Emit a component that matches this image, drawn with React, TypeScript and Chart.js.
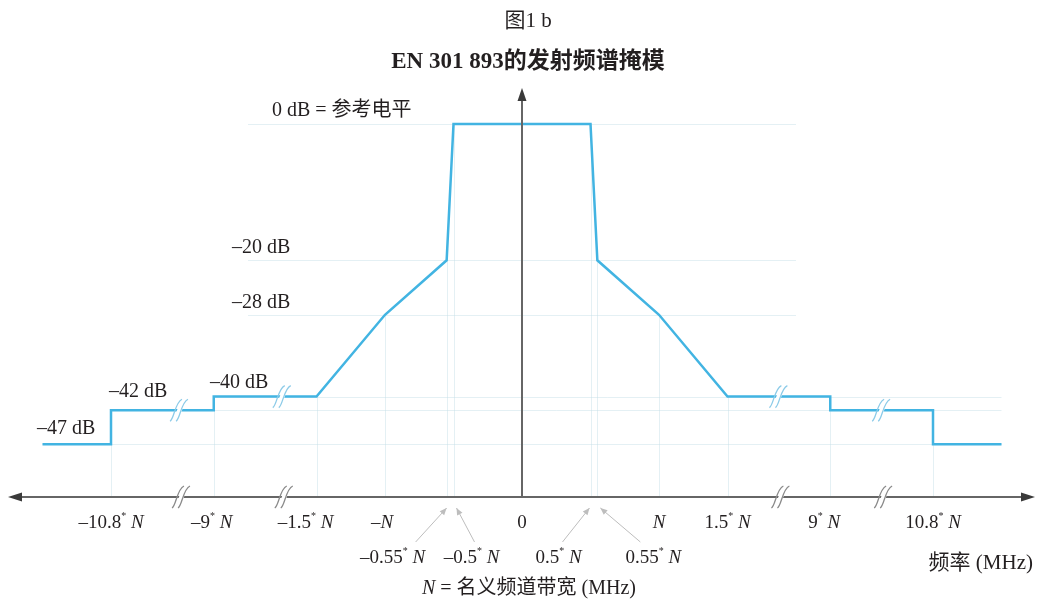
import React, { useEffect, useRef } from 'react';
import { Chart, registerables } from 'chart.js';

Chart.register(...registerables);

// ---- data (frequency positions on the compressed, broken axis, in units of N; levels in dB) ----
const maskPos = [-3.5, -3, -3, -2.25, -2.25, -1.5, -1, -0.55, -0.5, 0.5, 0.55, 1, 1.5, 2.25, 2.25, 3, 3, 3.5];
const maskDb = [-47, -47, -42, -42, -40, -40, -28, -20, 0, 0, -20, -28, -40, -40, -42, -42, -47, -47];

const tickPos = [-3, -2.25, -1.5, -1, 0, 1, 1.5, 2.25, 3];
const tickLabels = ['–10.8* N', '–9* N', '–1.5* N', '–N', '0', 'N', '1.5* N', '9* N', '10.8* N'];

const innerPos = [-0.55, -0.5, 0.5, 0.55];
const innerLabels = ['–0.55* N', '–0.5* N', '0.5* N', '0.55* N'];

const levelDb = [0, -20, -28, -40, -42, -47];
const levelLabels = ['0 dB = 参考电平', '–20 dB', '–28 dB', '–40 dB', '–42 dB', '–47 dB'];

const breakPos = [-2.5, -1.75, 1.875, 2.625];

const titleText = '图1 b';
const subtitleText = 'EN 301 893的发射频谱掩模';
const xAxisTitle = '频率 (MHz)';
const noteText = 'N = 名义频道带宽 (MHz)';

// ---- layout / style ----
const PX_PER_N = 137;
const CENTER_X = 522;
const W = 1038;
const H = 605;
const PX_PER_DB = 6.815;
const ZERO_Y = 124;
const X_MIN = -CENTER_X / PX_PER_N;
const X_MAX = (W - CENTER_X) / PX_PER_N;
const Y_MAX = ZERO_Y / PX_PER_DB;
const Y_MIN = -(H - ZERO_Y) / PX_PER_DB;
const AXIS_DB = -54.73;

const SERIF = '"Liberation Serif", "Times New Roman", "Noto Sans CJK SC", serif';
const TEXT = '#231f20';
const LINE = '#42b4e2';
const GRID = 'rgba(195, 222, 230, 0.45)';
const AXIS = '#666666';

const gridFrom = [-2, -2, -2, -2.25, -3, -3.5];
const gridTo = [2, 2, 2, 3.5, 3.5, 3.5];
const levelLabelX = [272, 232, 232, 210, 109, 37];
const levelLabelDy = [-13, -13, -12, -14, -18, -16];
const tickLabelDx = [0, -2, -11, -3, 0, 0, 0, -6, 0];
const innerLabelDx = [-54, 18, -32, 56];
const innerArrowStartDx = [-31, 21, -28, 43];
const innerArrowEndDx = [0, 3, -1, 3];

function levelAt(p: number): number {
  const exact = maskPos.map((v, i) => (v === p ? maskDb[i] : null)).filter((v) => v !== null) as number[];
  if (exact.length) return Math.max(...exact);
  for (let i = 0; i < maskPos.length - 1; i++) {
    const a = maskPos[i], b = maskPos[i + 1];
    if (p > a && p < b) {
      return maskDb[i] + ((p - a) / (b - a)) * (maskDb[i + 1] - maskDb[i]);
    }
  }
  return maskDb[0];
}

function drawRich(ctx: CanvasRenderingContext2D, s: string, cx: number, cy: number, size: number, align = 'center') {
  const parts: { t: string; kind: string; w: number }[] = [];
  for (const ch of s) {
    const kind = ch === '*' ? 'sup' : ch === 'N' ? 'it' : 'n';
    const last = parts[parts.length - 1];
    if (last && last.kind === kind) last.t += ch;
    else parts.push({ t: ch, kind, w: 0 });
  }
  const fontOf = (k: string) =>
    k === 'sup' ? `${Math.round(size * 0.55)}px ${SERIF}` : k === 'it' ? `italic ${size}px ${SERIF}` : `${size}px ${SERIF}`;
  let total = 0;
  parts.forEach((p) => {
    ctx.font = fontOf(p.kind);
    p.w = ctx.measureText(p.t).width;
    total += p.w;
  });
  let px = align === 'center' ? cx - total / 2 : align === 'right' ? cx - total : cx;
  ctx.textAlign = 'left';
  ctx.textBaseline = 'middle';
  parts.forEach((p) => {
    ctx.font = fontOf(p.kind);
    ctx.fillText(p.t, px, p.kind === 'sup' ? cy - size * 0.33 : cy);
    px += p.w;
  });
}

function breakMark(ctx: CanvasRenderingContext2D, x: number, y: number, color: string) {
  ctx.save();
  ctx.fillStyle = '#ffffff';
  ctx.beginPath();
  ctx.moveTo(x - 6, y + 9);
  ctx.lineTo(x - 1, y + 9);
  ctx.lineTo(x + 6, y - 9);
  ctx.lineTo(x + 1, y - 9);
  ctx.closePath();
  ctx.fill();
  ctx.strokeStyle = color;
  ctx.lineWidth = 1.3;
  for (const dx of [-3.5, 2.5]) {
    ctx.beginPath();
    ctx.moveTo(x + dx - 6, y + 11);
    ctx.bezierCurveTo(x + dx - 2, y + 9, x + dx - 1, y - 8, x + dx + 6, y - 11);
    ctx.stroke();
  }
  ctx.restore();
}

function arrowHead(ctx: CanvasRenderingContext2D, x1: number, y1: number, x2: number, y2: number, len: number, half: number) {
  const a = Math.atan2(y2 - y1, x2 - x1);
  ctx.beginPath();
  ctx.moveTo(x2, y2);
  ctx.lineTo(x2 - len * Math.cos(a) + half * Math.sin(a), y2 - len * Math.sin(a) - half * Math.cos(a));
  ctx.lineTo(x2 - len * Math.cos(a) - half * Math.sin(a), y2 - len * Math.sin(a) + half * Math.cos(a));
  ctx.closePath();
  ctx.fill();
}

const decor = {
  id: 'decor',
  beforeDatasetsDraw(chart: any) {
    const { ctx, scales } = chart;
    const x = scales.x, y = scales.y;
    const axisY = y.getPixelForValue(AXIS_DB);
    ctx.save();
    ctx.strokeStyle = GRID;
    ctx.lineWidth = 1;
    levelDb.forEach((db, i) => {
      const py = Math.round(y.getPixelForValue(db)) + 0.5;
      ctx.beginPath();
      ctx.moveTo(x.getPixelForValue(gridFrom[i]), py);
      ctx.lineTo(x.getPixelForValue(gridTo[i]), py);
      ctx.stroke();
    });
    [...tickPos, ...innerPos]
      .filter((p) => p !== 0)
      .forEach((p) => {
        const px = Math.round(x.getPixelForValue(p)) + 0.5;
        ctx.beginPath();
        ctx.moveTo(px, y.getPixelForValue(levelAt(p)));
        ctx.lineTo(px, axisY);
        ctx.stroke();
      });
    ctx.restore();
  },
  afterDatasetsDraw(chart: any) {
    const { ctx, scales, chartArea } = chart;
    const x = scales.x, y = scales.y;
    const axisY = y.getPixelForValue(AXIS_DB);
    const x0 = x.getPixelForValue(0);
    ctx.save();

    // break marks on the mask
    breakPos.forEach((p) => breakMark(ctx, x.getPixelForValue(p), y.getPixelForValue(levelAt(p)), '#8ccbe8'));

    // axes
    ctx.strokeStyle = AXIS;
    ctx.fillStyle = '#3a3a3a';
    ctx.lineWidth = 2;
    const leftTip = chartArea.left + 8;
    const rightTip = chartArea.right - 3;
    ctx.beginPath();
    ctx.moveTo(leftTip + 8, axisY);
    ctx.lineTo(rightTip - 8, axisY);
    ctx.stroke();
    arrowHead(ctx, rightTip - 20, axisY, rightTip, axisY, 14, 4.5);
    arrowHead(ctx, leftTip + 20, axisY, leftTip, axisY, 14, 4.5);
    const topTip = 88;
    ctx.beginPath();
    ctx.moveTo(x0, axisY);
    ctx.lineTo(x0, topTip + 8);
    ctx.stroke();
    arrowHead(ctx, x0, topTip + 20, x0, topTip, 13, 4.5);

    breakPos.forEach((p) => breakMark(ctx, x.getPixelForValue(p) + 2, axisY, '#8a8a8a'));

    // tick labels
    ctx.fillStyle = TEXT;
    tickPos.forEach((p, i) => drawRich(ctx, tickLabels[i], x.getPixelForValue(p) + tickLabelDx[i], axisY + 26, 19));

    // inner labels with arrows
    innerPos.forEach((p, i) => {
      const px = x.getPixelForValue(p);
      ctx.fillStyle = TEXT;
      drawRich(ctx, innerLabels[i], px + innerLabelDx[i], axisY + 61, 19);
      const sx = px + innerArrowStartDx[i], sy = axisY + 45;
      const ex = px + innerArrowEndDx[i], ey = axisY + 11;
      ctx.strokeStyle = '#bdbdbd';
      ctx.fillStyle = '#bdbdbd';
      ctx.lineWidth = 1;
      ctx.beginPath();
      ctx.moveTo(sx, sy);
      ctx.lineTo(ex, ey);
      ctx.stroke();
      arrowHead(ctx, sx, sy, ex, ey, 7, 3);
    });

    // level labels
    ctx.fillStyle = TEXT;
    ctx.font = `20px ${SERIF}`;
    ctx.textAlign = 'left';
    ctx.textBaseline = 'middle';
    levelDb.forEach((db, i) => {
      ctx.fillText(levelLabels[i], chartArea.left + levelLabelX[i], y.getPixelForValue(db) + levelLabelDy[i]);
    });

    // titles and notes
    ctx.textAlign = 'center';
    ctx.font = `21px ${SERIF}`;
    ctx.fillText(titleText, 528, 21);
    ctx.font = `bold 23px ${SERIF}`;
    ctx.fillText(subtitleText, 528, 62);
    ctx.textAlign = 'right';
    ctx.font = `21px ${SERIF}`;
    ctx.fillText(xAxisTitle, chartArea.right - 5, axisY + 66);
    drawRich(ctx, noteText, 529, axisY + 92, 20);
    ctx.restore();
  },
};

export default function App() {
  const ref = useRef<HTMLCanvasElement>(null);
  useEffect(() => {
    document.body.style.margin = '0';
    document.body.style.overflow = 'hidden';
    const chart = new Chart(ref.current as HTMLCanvasElement, {
      type: 'line',
      data: {
        datasets: [
          {
            data: maskPos.map((p, i) => ({ x: p, y: maskDb[i] })),
            borderColor: LINE,
            borderWidth: 2.5,
            pointRadius: 0,
            tension: 0,
            fill: false,
          },
        ],
      },
      options: {
        animation: false,
        responsive: false,
        maintainAspectRatio: false,
        layout: { padding: 0 },
        plugins: { legend: { display: false }, tooltip: { enabled: false }, title: { display: false } },
        scales: {
          x: { type: 'linear', min: X_MIN, max: X_MAX, display: false },
          y: { type: 'linear', min: Y_MIN, max: Y_MAX, display: false },
        },
      },
      plugins: [decor],
    } as any);
    return () => chart.destroy();
  }, []);
  return <canvas ref={ref} width={W} height={H} style={{ display: 'block', width: W, height: H }} />;
}
